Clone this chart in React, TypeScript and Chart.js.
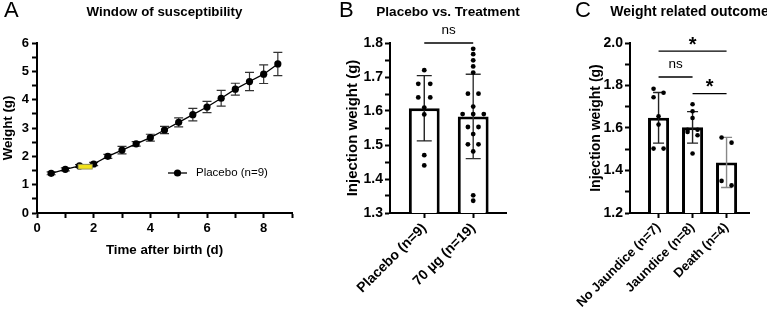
import React, { useEffect, useRef } from 'react';
import { Chart, registerables } from 'chart.js';

Chart.register(...registerables);

const FONT = "'Liberation Sans', Arial, Helvetica, sans-serif";

// ---------- Panel A data ----------
const daysA = [0.5, 1, 1.5, 2, 2.5, 3, 3.5, 4, 4.5, 5, 5.5, 6, 6.5, 7, 7.5, 8, 8.5];
const weightA = [1.40, 1.54, 1.66, 1.73, 2.00, 2.22, 2.44, 2.66, 2.93, 3.20, 3.47, 3.74, 4.05, 4.37, 4.64, 4.90, 5.26];
const weightSdA = [0.05, 0.05, 0.05, 0.06, 0.07, 0.13, 0.08, 0.12, 0.13, 0.16, 0.22, 0.20, 0.28, 0.21, 0.32, 0.33, 0.41];
const seriesLabelA = 'Placebo (n=9)';
const windowDaysA = [1.45, 1.95];
const windowWeightA = [1.55, 1.72];

// ---------- Panel B data ----------
const categoriesB = ['Placebo (n=9)', '70 µg (n=19)'];
const placeboB = [1.72, 1.68, 1.68, 1.64, 1.64, 1.61, 1.59, 1.47, 1.44];
const treatedB = [1.783, 1.767, 1.749, 1.731, 1.713, 1.651, 1.651, 1.613, 1.591, 1.591, 1.591, 1.553, 1.553, 1.532, 1.502, 1.502, 1.481, 1.352, 1.336];
const meanB = [1.608, 1.584];
const sdB = [0.096, 0.124];
const sigPairsB = [[0, 1]];
const sigLabelsB = ['ns'];
const sigLevelsB = [1.8];

// ---------- Panel C data ----------
const categoriesC = ['No Jaundice (n=7)', 'Jaundice (n=8)', 'Death (n=4)'];
const noJaundiceC = [1.785, 1.766, 1.745, 1.655, 1.616, 1.503, 1.503];
const jaundiceC = [1.712, 1.679, 1.647, 1.592, 1.592, 1.581, 1.566, 1.48];
const deathC = [1.555, 1.531, 1.351, 1.330];
const meanC = [1.648, 1.603, 1.438];
const sdC = [0.119, 0.074, 0.118];
const sigPairsC = [[0, 2], [0, 1], [1, 2]];
const sigLabelsC = ['*', 'ns', '*'];
const sigLevelsC = [1.962, 1.84, 1.762];

// ---------- helpers ----------
function swarm(values: number[], center: number, xPx: number, yPx: number, gap: number, thr: number) {
  const sorted = [...values].sort((a, b) => b - a);
  const pts: { x: number; y: number }[] = [];
  let i = 0;
  while (i < sorted.length) {
    let j = i + 1;
    while (j < sorted.length && (sorted[j - 1] - sorted[j]) * yPx < thr) j++;
    const cl = sorted.slice(i, j);
    const allEq = cl.every((v) => Math.abs(v - cl[0]) * yPx < 1);
    cl.forEach((v, k) => {
      let off = 0;
      if (cl.length === 1) off = 0;
      else if (allEq) off = (k - (cl.length - 1) / 2) * gap;
      else off = (k % 2 === 0 ? -0.5 : 0.5) * gap;
      pts.push({ x: center + off / xPx, y: v });
    });
    i = j;
  }
  return pts;
}

const axisStyle = (size: number) => ({
  grid: { drawOnChartArea: false, drawTicks: true, tickLength: 5, tickColor: '#000', tickWidth: 2, offset: false },
  border: { display: true, color: '#000', width: 2 },
});

const tickFont = (size: number, weight: any = 'bold') => ({ family: FONT, size, weight });

function headerPlugin(letter: string, letterX: number, title: string, titleSize: number) {
  return {
    id: 'header' + letter,
    afterDraw(chart: any) {
      const { ctx, chartArea } = chart;
      ctx.save();
      ctx.fillStyle = '#000';
      ctx.textBaseline = 'middle';
      ctx.textAlign = 'left';
      ctx.font = `normal 22px ${FONT}`;
      ctx.fillText(letter, letterX, 11);
      ctx.font = `bold ${titleSize}px ${FONT}`;
      ctx.textAlign = 'center';
      ctx.fillText(title, (chartArea.left + chartArea.right) / 2, 12);
      ctx.restore();
    },
  };
}

function errorBarPlugin(means: number[], sds: number[], colors: string[], capHalf: number) {
  return {
    id: 'errbars',
    afterDatasetDraw(chart: any, args: any) {
      if (args.meta.type !== 'bar') return;
      const { ctx } = chart;
      const xs = chart.scales.x;
      const ys = chart.scales.y;
      ctx.save();
      ctx.lineWidth = 1.4;
      means.forEach((m, i) => {
        const px = xs.getPixelForValue(i);
        const top = ys.getPixelForValue(m + sds[i]);
        const bot = ys.getPixelForValue(m - sds[i]);
        ctx.strokeStyle = colors[i];
        ctx.beginPath();
        ctx.moveTo(px, top);
        ctx.lineTo(px, bot);
        ctx.moveTo(px - capHalf, top);
        ctx.lineTo(px + capHalf, top);
        ctx.moveTo(px - capHalf, bot);
        ctx.lineTo(px + capHalf, bot);
        ctx.stroke();
      });
      ctx.restore();
    },
  };
}

function sigPlugin(pairs: number[][], labels: string[], levels: number[]) {
  return {
    id: 'sig',
    afterDraw(chart: any) {
      const { ctx } = chart;
      const xs = chart.scales.x;
      const ys = chart.scales.y;
      ctx.save();
      ctx.strokeStyle = '#000';
      ctx.fillStyle = '#000';
      ctx.lineWidth = 1.4;
      pairs.forEach((p, i) => {
        const x1 = xs.getPixelForValue(p[0]);
        const x2 = xs.getPixelForValue(p[1]);
        const y = ys.getPixelForValue(levels[i]);
        ctx.beginPath();
        ctx.moveTo(x1, y);
        ctx.lineTo(x2, y);
        ctx.stroke();
        ctx.textAlign = 'center';
        ctx.textBaseline = 'alphabetic';
        if (labels[i] === '*') {
          ctx.font = `bold 20px ${FONT}`;
          ctx.fillText(labels[i], (x1 + x2) / 2, y - 0.5);
        } else {
          ctx.font = `normal 13.5px ${FONT}`;
          ctx.fillText(labels[i], (x1 + x2) / 2, y - 9);
        }
      });
      ctx.restore();
    },
  };
}

// ---------- Panel A config ----------
function makeA(): any {
  const aErr = {
    id: 'aerr',
    beforeDatasetsDraw(chart: any) {
      const { ctx } = chart;
      const xs = chart.scales.x;
      const ys = chart.scales.y;
      ctx.save();
      ctx.strokeStyle = '#333';
      ctx.lineWidth = 1.2;
      daysA.forEach((d, i) => {
        const px = xs.getPixelForValue(d);
        const top = ys.getPixelForValue(weightA[i] + weightSdA[i]);
        const bot = ys.getPixelForValue(weightA[i] - weightSdA[i]);
        ctx.beginPath();
        ctx.moveTo(px, top);
        ctx.lineTo(px, bot);
        ctx.moveTo(px - 4.5, top);
        ctx.lineTo(px + 4.5, top);
        ctx.moveTo(px - 4.5, bot);
        ctx.lineTo(px + 4.5, bot);
        ctx.stroke();
      });
      ctx.restore();
    },
  };
  const windowRect = {
    id: 'window',
    afterDatasetsDraw(chart: any) {
      const { ctx } = chart;
      const xs = chart.scales.x;
      const ys = chart.scales.y;
      const x1 = xs.getPixelForValue(windowDaysA[0]);
      const x2 = xs.getPixelForValue(windowDaysA[1]);
      const y1 = ys.getPixelForValue(windowWeightA[1]);
      const y2 = ys.getPixelForValue(windowWeightA[0]);
      ctx.save();
      ctx.fillStyle = '#f2e21c';
      ctx.strokeStyle = '#8a8a5a';
      ctx.lineWidth = 0.8;
      ctx.fillRect(x1, y1, x2 - x1, y2 - y1);
      ctx.strokeRect(x1, y1, x2 - x1, y2 - y1);
      ctx.restore();
    },
  };
  const legend = {
    id: 'legendA',
    afterDraw(chart: any) {
      const { ctx, chartArea } = chart;
      const y = chartArea.top + 130;
      const lx = chartArea.left + 131;
      ctx.save();
      ctx.strokeStyle = '#000';
      ctx.lineWidth = 1.3;
      ctx.beginPath();
      ctx.moveTo(lx, y);
      ctx.lineTo(lx + 19, y);
      ctx.stroke();
      ctx.fillStyle = '#000';
      ctx.beginPath();
      ctx.arc(lx + 9.5, y, 3.6, 0, Math.PI * 2);
      ctx.fill();
      ctx.font = `normal 11.5px ${FONT}`;
      ctx.textBaseline = 'middle';
      ctx.textAlign = 'left';
      ctx.fillText(chart.data.datasets[0].label, lx + 28, y);
      ctx.restore();
    },
  };
  return {
    type: 'line',
    data: {
      datasets: [
        {
          label: seriesLabelA,
          data: daysA.map((d, i) => ({ x: d, y: weightA[i] })),
          borderColor: '#000',
          borderWidth: 1.3,
          pointRadius: 3.6,
          pointBackgroundColor: '#000',
          pointBorderColor: '#000',
          pointBorderWidth: 0,
          tension: 0,
        },
      ],
    },
    options: {
      animation: false,
      responsive: false,
      events: [],
      layout: { padding: { left: 0, right: 8, top: 43, bottom: 49 } },
      plugins: { legend: { display: false }, tooltip: { enabled: false }, title: { display: false } },
      scales: {
        x: {
          type: 'linear',
          min: 0,
          max: 9,
          ...axisStyle(13),
          ticks: {
            stepSize: 1,
            autoSkip: false,
            maxRotation: 0,
            padding: 3,
            color: '#000',
            font: tickFont(13),
            callback: (v: number) => (v % 2 === 0 ? String(v) : ''),
          },
          title: { display: true, text: 'Time after birth (d)', color: '#000', font: tickFont(13.3), padding: 4 },
          afterFit: (s: any) => { s.height = 49; },
        },
        y: {
          type: 'linear',
          min: 0,
          max: 6,
          ...axisStyle(13),
          ticks: {
            stepSize: 0.5,
            autoSkip: false,
            padding: 3,
            color: '#000',
            font: tickFont(13),
            callback: (v: number) => (Number.isInteger(v) ? String(v) : ''),
          },
          title: { display: true, text: 'Weight (g)', color: '#000', font: tickFont(13.3), padding: 0 },
          afterFit: (s: any) => { s.width = 37; },
        },
      },
    },
    plugins: [aErr, windowRect, legend, headerPlugin('A', 4, 'Window of susceptibility', 13.3)],
  };
}

// ---------- Panel B config ----------
function makeB(): any {
  const xPx = 49, yPx = 339;
  const dots = [
    ...swarm(placeboB, 0, xPx, yPx, 12, 4.8),
    ...swarm(treatedB, 1, xPx, yPx, 10.6, 4.8),
  ];
  return {
    type: 'bar',
    data: {
      datasets: [
        {
          type: 'bar',
          order: 2,
          data: meanB.map((m, i) => ({ x: i, y: m })),
          backgroundColor: '#fff',
          borderColor: '#000',
          borderWidth: 3,
          barPercentage: 0.63,
          categoryPercentage: 1,
        },
        {
          type: 'scatter',
          order: 1,
          data: dots,
          pointRadius: 2.4,
          pointBackgroundColor: '#000',
          pointBorderWidth: 0,
          showLine: false,
        },
      ],
    },
    options: {
      animation: false,
      responsive: false,
      events: [],
      layout: { padding: { left: 40, right: 14, top: 43, bottom: 0 } },
      plugins: { legend: { display: false }, tooltip: { enabled: false }, title: { display: false } },
      scales: {
        x: {
          type: 'linear',
          min: -0.7,
          max: 1.67,
          offset: false,
          ...axisStyle(14),
          afterBuildTicks: (s: any) => { s.ticks = categoriesB.map((_, i) => ({ value: i })); },
          ticks: {
            autoSkip: false,
            minRotation: 45,
            maxRotation: 45,
            padding: 2,
            color: '#000',
            font: tickFont(14),
            callback: (v: number) => categoriesB[Math.round(v)] ?? '',
          },
          afterFit: (s: any) => { s.height = 98; },
        },
        y: {
          type: 'linear',
          min: 1.3,
          max: 1.8,
          ...axisStyle(14),
          ticks: {
            stepSize: 0.05,
            autoSkip: false,
            padding: 2,
            color: '#000',
            font: tickFont(14),
            callback: (v: number) => (Math.abs(Math.round(v * 10) - v * 10) < 1e-6 ? v.toFixed(1) : ''),
          },
          title: { display: true, text: 'Injection weight (g)', color: '#000', font: tickFont(15), padding: 4 },
          afterFit: (s: any) => { s.width = 50; },
        },
      },
    },
    plugins: [
      errorBarPlugin(meanB, sdB, ['#222', '#333'], 7.5),
      sigPlugin(sigPairsB, sigLabelsB, sigLevelsB),
      headerPlugin('B', 39, 'Placebo vs. Treatment', 13.6),
    ],
  };
}

// ---------- Panel C config ----------
function makeC(): any {
  const xPx = 34, yPx = 212.5;
  const dots = [
    ...swarm(noJaundiceC, 0, xPx, yPx, 10, 5.5),
    ...swarm(jaundiceC, 1, xPx, yPx, 10, 5.5),
    ...swarm(deathC, 2, xPx, yPx, 10, 5.5),
  ];
  return {
    type: 'bar',
    data: {
      datasets: [
        {
          type: 'bar',
          order: 2,
          data: meanC.map((m, i) => ({ x: i, y: m })),
          backgroundColor: '#fff',
          borderColor: '#000',
          borderWidth: 3,
          barPercentage: 0.62,
          categoryPercentage: 1,
        },
        {
          type: 'scatter',
          order: 1,
          data: dots,
          pointRadius: 2.3,
          pointBackgroundColor: '#000',
          pointBorderWidth: 0,
          showLine: false,
        },
      ],
    },
    options: {
      animation: false,
      responsive: false,
      events: [],
      layout: { padding: { left: 64, right: 18, top: 43, bottom: 0 } },
      plugins: { legend: { display: false }, tooltip: { enabled: false }, title: { display: false } },
      scales: {
        x: {
          type: 'linear',
          min: -0.84,
          max: 2.66,
          offset: false,
          ...axisStyle(13),
          afterBuildTicks: (s: any) => { s.ticks = categoriesC.map((_, i) => ({ value: i })); },
          ticks: {
            autoSkip: false,
            minRotation: 45,
            maxRotation: 45,
            padding: 2,
            color: '#000',
            font: tickFont(13),
            callback: (v: number) => categoriesC[Math.round(v)] ?? '',
          },
          afterFit: (s: any) => { s.height = 98; },
        },
        y: {
          type: 'linear',
          min: 1.2,
          max: 2.0,
          ...axisStyle(14),
          ticks: {
            stepSize: 0.1,
            autoSkip: false,
            padding: 2,
            color: '#000',
            font: tickFont(14),
            callback: (v: number) => (Math.abs(Math.round(v * 5) - v * 5) < 1e-6 ? v.toFixed(1) : ''),
          },
          title: { display: true, text: 'Injection weight (g)', color: '#000', font: tickFont(14), padding: 4 },
          afterFit: (s: any) => { s.width = 46; },
        },
      },
    },
    plugins: [
      errorBarPlugin(meanC, sdC, ['#222', '#222', '#888'], 5.5),
      sigPlugin(sigPairsC, sigLabelsC, sigLevelsC),
      headerPlugin('C', 55, 'Weight related outcome', 14),
    ],
  };
}

function ChartCanvas({ left, width, make }: { left: number; width: number; make: () => any }) {
  const ref = useRef<HTMLCanvasElement>(null);
  useEffect(() => {
    const chart = new Chart(ref.current as HTMLCanvasElement, make());
    return () => chart.destroy();
  }, []);
  return (
    <canvas
      ref={ref}
      width={width}
      height={311}
      style={{ position: 'absolute', left, top: 0, width, height: 311 }}
    />
  );
}

export default function App() {
  return (
    <div style={{ position: 'fixed', left: 0, top: 0, width: 767, height: 311, background: '#fff', overflow: 'hidden' }}>
      <ChartCanvas left={0} width={300} make={makeA} />
      <ChartCanvas left={300} width={220} make={makeB} />
      <ChartCanvas left={520} width={247} make={makeC} />
    </div>
  );
}
